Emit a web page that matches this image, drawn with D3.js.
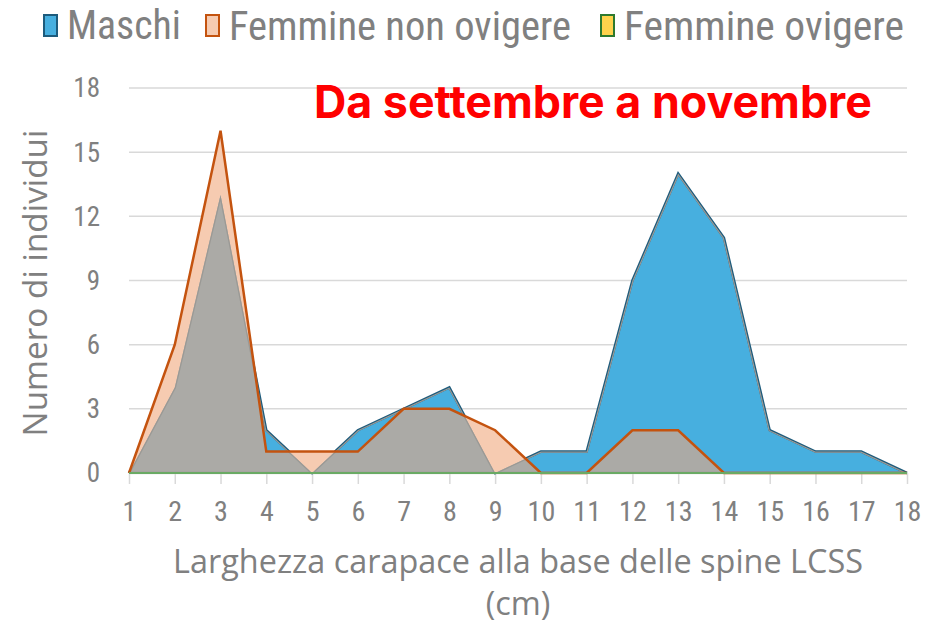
<!DOCTYPE html>
<html>
<head>
<meta charset="utf-8">
<script src="https://cdnjs.cloudflare.com/ajax/libs/d3/7.8.5/d3.min.js"></script>
<style>
  body { margin: 0; background: #fff; }
  svg { display: block; }
</style>
</head>
<body>
<svg id="chart" width="927" height="627"></svg>
<script>
// data
var sizes = [1, 2, 3, 4, 5, 6, 7, 8, 9, 10, 11, 12, 13, 14, 15, 16, 17, 18]
var maschi = [0, 4, 13, 2, 0, 2, 3, 4, 0, 1, 1, 9, 14, 11, 2, 1, 1, 0]
var femmineNonOvigere = [0, 6, 16, 1, 1, 1, 3, 3, 2, 0, 0, 2, 2, 0, 0, 0, 0, 0]
var femmineOvigere = [0, 0, 0, 0, 0, 0, 0, 0, 0, 0, 0, 0, 0, 0, 0, 0, 0, 0]
var yTicks = [0, 3, 6, 9, 12, 15, 18]
var seriesNames = ["Maschi", "Femmine non ovigere", "Femmine ovigere"]

var narrow = "'Liberation Sans Narrow', 'Roboto Condensed', 'Liberation Sans', sans-serif"
var grey = "#808080"

var svg = d3.select("#chart")

var x = d3.scaleLinear().domain([1, 18]).range([129, 907])
var y = d3.scaleLinear().domain([0, 18]).range([473, 88])

function rows(vals) {
    return sizes.map((s, i) => ({ x: s, v: vals[i] }))
}

// shrink/grow a text so it spans the wanted width
function fitWidth(sel, size, want) {
    sel.style("font-size", size + "px")
    var w = sel.node().getComputedTextLength()
    var s = size * want / w
    sel.style("font-size", s + "px")
    return s
}

var area = d3.area().x(d => x(d.x)).y0(y(0)).y1(d => y(d.v))
var line = d3.line().x(d => x(d.x)).y(d => y(d.v))

// gridlines
svg.append("g").selectAll("line")
    .data(yTicks.filter(t => t > 0))
    .enter().append("line")
    .attr("x1", x(1)).attr("x2", x(18))
    .attr("y1", d => y(d)).attr("y2", d => y(d))
    .attr("stroke", "#d9d9d9").attr("stroke-width", 1.5)

// y tick labels
svg.append("g").selectAll("text")
    .data(yTicks)
    .enter().append("text")
    .attr("x", 100).attr("y", d => y(d))
    .attr("dy", "0.35em")
    .attr("text-anchor", "end")
    .style("font-family", narrow).style("font-size", "27px")
    .style("fill", grey)
    .text(d => d)

// x axis ticks + labels
var xAxis = d3.axisBottom(x).tickValues(sizes).tickSize(11).tickSizeOuter(0).tickPadding(17)
var gx = svg.append("g").attr("transform", "translate(0," + y(0) + ")").call(xAxis)
gx.select(".domain").attr("stroke", "#d9d9d9").attr("stroke-width", 1.5)
gx.selectAll(".tick line").attr("stroke", "#d9d9d9").attr("stroke-width", 1.5)
gx.selectAll(".tick text")
    .style("font-family", narrow).style("font-size", "28px")
    .style("fill", grey)

// clip to the maschi area, used for the overlap
svg.append("defs").append("clipPath").attr("id", "clipMaschi")
    .append("path").attr("d", area(rows(maschi)))

// maschi
svg.append("path").attr("d", area(rows(maschi)))
    .attr("fill", "#47afdf")
svg.append("path").attr("d", line(rows(maschi)))
    .attr("fill", "none").attr("stroke", "#1d5b7c").attr("stroke-width", 2.5)

// femmine non ovigere
svg.append("path").attr("d", area(rows(femmineNonOvigere)))
    .attr("fill", "#f6cbb1")
// overlap shows grey
svg.append("path").attr("d", area(rows(femmineNonOvigere)))
    .attr("clip-path", "url(#clipMaschi)")
    .attr("fill", "#abaaa6")
svg.append("path").attr("d", area(rows(maschi)))
    .attr("clip-path", "url(#clipMaschi)")
    .attr("fill", "none").attr("stroke", "#9a9995").attr("stroke-width", 2.5)
svg.append("path").attr("d", line(rows(femmineNonOvigere)))
    .attr("fill", "none").attr("stroke", "#c4530f").attr("stroke-width", 2.5)

// femmine ovigere
svg.append("path").attr("d", area(rows(femmineOvigere)))
    .attr("fill", "#ffd34c")
svg.append("path").attr("d", line(rows(femmineOvigere)))
    .attr("fill", "none").attr("stroke", "#6aaa64").attr("stroke-width", 2)

// title inside plot
var title = svg.append("text")
    .attr("x", 314).attr("y", 118)
    .style("font-family", "Inter, 'Liberation Sans', sans-serif")
    .style("font-weight", "bold")
    .style("fill", "#ff0000")
    .text("Da settembre a novembre")
fitWidth(title, 34, 558)

// axis titles
var yTitle = svg.append("text")
    .attr("transform", "translate(47,283) rotate(-90)")
    .attr("text-anchor", "middle")
    .style("font-family", "'Open Sans', sans-serif")
    .style("fill", grey)
    .text("Numero di individui")
fitWidth(yTitle, 28, 307)

var xTitle = svg.append("text")
    .attr("x", 518).attr("y", 573)
    .attr("text-anchor", "middle")
    .style("font-family", "'Open Sans', sans-serif")
    .style("fill", grey)
    .text("Larghezza carapace alla base delle spine LCSS")
var xs = fitWidth(xTitle, 28, 690)
svg.append("text")
    .attr("x", 518).attr("y", 615)
    .attr("text-anchor", "middle")
    .style("font-family", "'Open Sans', sans-serif").style("font-size", xs + "px")
    .style("fill", grey)
    .text("(cm)")

// legend
var legendFill = ["#47afdf", "#f6cbb1", "#ffd34c"]
var legendStroke = ["#1d5b7c", "#c4530f", "#2e7a2e"]
var legendX = [44, 206, 601]
var legendW = [114, 342, 280]
var lg = svg.append("g").selectAll("g")
    .data(seriesNames)
    .enter().append("g")
    .attr("transform", (d, i) => "translate(" + legendX[i] + ",0)")
lg.append("rect")
    .attr("x", 0).attr("y", 15).attr("width", 13).attr("height", 21)
    .attr("fill", (d, i) => legendFill[i])
    .attr("stroke", (d, i) => legendStroke[i]).attr("stroke-width", 2)
lg.append("text")
    .attr("x", 23).attr("y", 25).attr("dy", "0.36em")
    .style("font-family", narrow)
    .style("fill", grey)
    .text(d => d)
    .each(function (d, i) { fitWidth(d3.select(this), 31, legendW[i]) })
</script>
</body>
</html>
